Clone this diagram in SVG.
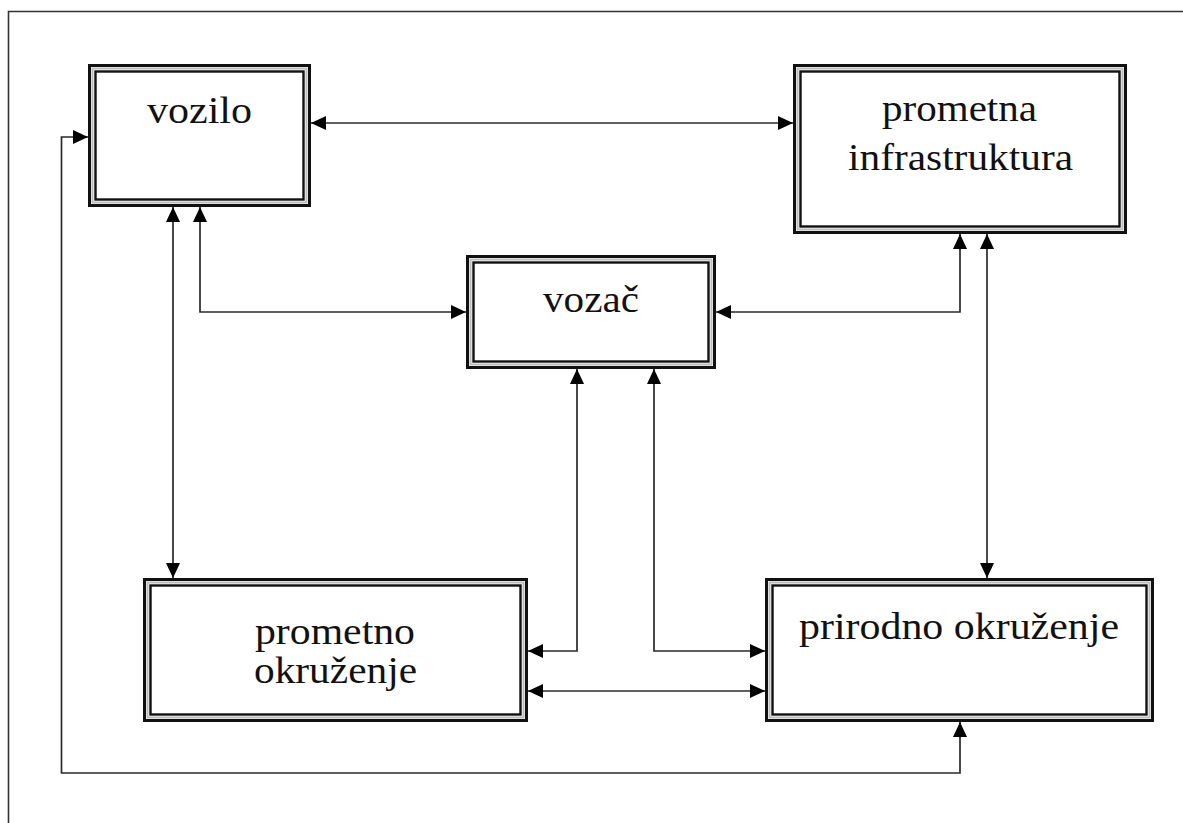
<svg xmlns="http://www.w3.org/2000/svg" width="1183" height="823" viewBox="0 0 1183 823">
<defs>
<style>
.frame{fill:none;stroke:#333;stroke-width:1.6}
.outer{fill:#fff;stroke:#111;stroke-width:3}
.mid{fill:none;stroke:#bdbdbd;stroke-width:2}
.inner{fill:none;stroke:#111;stroke-width:2.4}
.lbl{font-family:"Liberation Serif",serif;font-size:38px;fill:#111;text-anchor:middle}
.conn{fill:none;stroke:#2a2a2a;stroke-width:1.7;marker-start:url(#arr);marker-end:url(#arr)}
</style>
<marker id="arr" viewBox="0 0 15 14" refX="15" refY="7" markerWidth="15" markerHeight="14" markerUnits="userSpaceOnUse" orient="auto-start-reverse">
<path d="M0,0 L15,7 L0,14 z" fill="#000"/>
</marker>
</defs>
<rect width="1183" height="823" fill="#fff"/>
<path class="frame" d="M8.5,823 V11.5 H1183"/>

<g id="connectors">
<path class="conn" d="M311,123 H793"/>
<path class="conn" d="M173,207 V578"/>
<path class="conn" d="M200,207 V312 H466"/>
<path class="conn" d="M716,312 H960 V234"/>
<path class="conn" d="M987,234 V578"/>
<path class="conn" d="M577,369 V651 H528"/>
<path class="conn" d="M654,369 V651 H765"/>
<path class="conn" d="M528,691 H765"/>
<path class="conn" d="M88,137 H61.5 V773 H960 V722"/>
</g>

<g id="vozilo">
<rect class="outer" x="89.5" y="65.5" width="220" height="140"/>
<rect class="mid" x="92.5" y="68.5" width="214" height="134"/>
<rect class="inner" x="95.5" y="71.5" width="208" height="128"/>
<text class="lbl" x="199.5" y="123" textLength="105" lengthAdjust="spacingAndGlyphs">vozilo</text>
</g>

<g id="prometna-infrastruktura">
<rect class="outer" x="794.5" y="65.5" width="331" height="167"/>
<rect class="mid" x="797.5" y="68.5" width="325" height="161"/>
<rect class="inner" x="800.5" y="71.5" width="319" height="155"/>
<text class="lbl" x="959.5" y="121" textLength="155" lengthAdjust="spacingAndGlyphs">prometna</text>
<text class="lbl" x="960.5" y="170" textLength="225" lengthAdjust="spacingAndGlyphs">infrastruktura</text>
</g>

<g id="vozac">
<rect class="outer" x="467.5" y="256.5" width="247" height="111"/>
<rect class="mid" x="470.5" y="259.5" width="241" height="105"/>
<rect class="inner" x="473.5" y="262.5" width="235" height="99"/>
<text class="lbl" x="591" y="312" textLength="96" lengthAdjust="spacingAndGlyphs">vozač</text>
</g>

<g id="prometno-okruzenje">
<rect class="outer" x="144.5" y="579.5" width="382" height="141"/>
<rect class="mid" x="147.5" y="582.5" width="376" height="135"/>
<rect class="inner" x="150.5" y="585.5" width="370" height="129"/>
<text class="lbl" x="335" y="644" textLength="160" lengthAdjust="spacingAndGlyphs">prometno</text>
<text class="lbl" x="335.5" y="683" textLength="163" lengthAdjust="spacingAndGlyphs">okruženje</text>
</g>

<g id="prirodno-okruzenje">
<rect class="outer" x="766.5" y="579.5" width="386" height="141"/>
<rect class="mid" x="769.5" y="582.5" width="380" height="135"/>
<rect class="inner" x="772.5" y="585.5" width="374" height="129"/>
<text class="lbl" x="959" y="639" textLength="320" lengthAdjust="spacingAndGlyphs">prirodno okruženje</text>
</g>
</svg>
